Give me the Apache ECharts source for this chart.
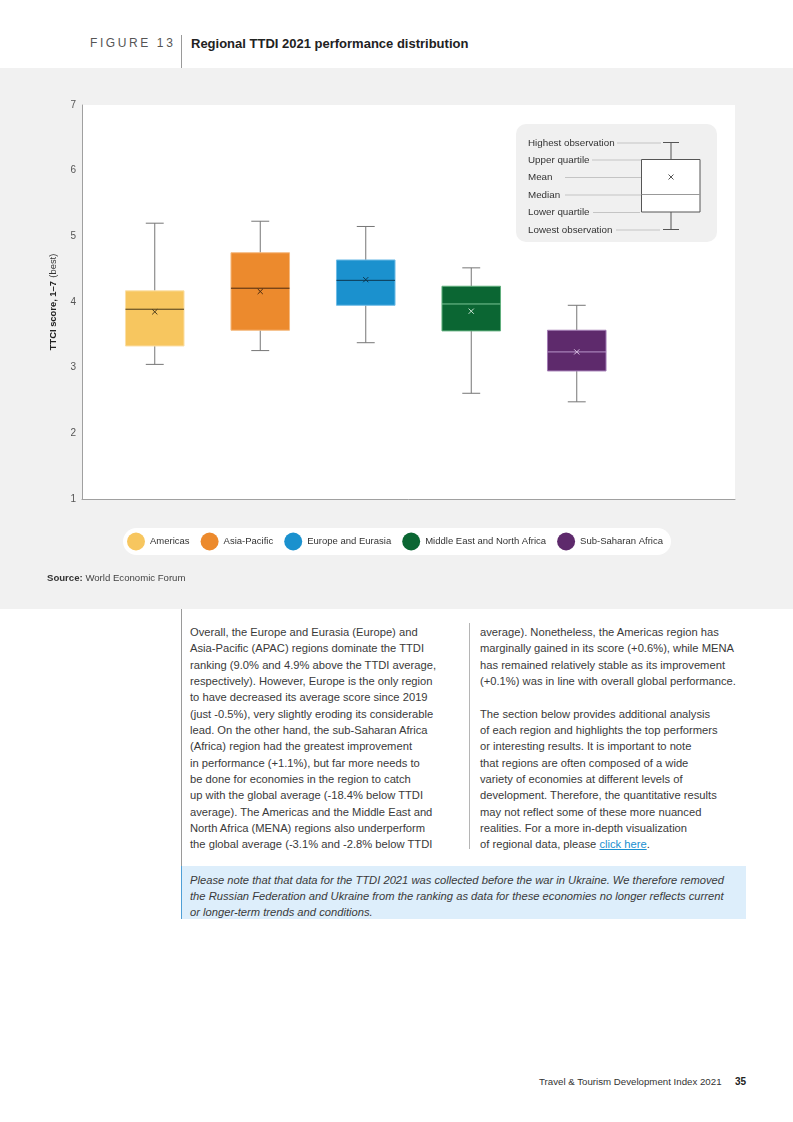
<!DOCTYPE html>
<html>
<head>
<meta charset="utf-8">
<script src="https://cdn.jsdelivr.net/npm/echarts@6/dist/echarts.min.js"></script>
<style>
  html, body { margin: 0; padding: 0; background: #fff; }
  body { width: 793px; height: 1122px; position: relative; overflow: hidden; font-family: "Liberation Sans", Arial, sans-serif; color: #333; }
  .abs { position: absolute; white-space: nowrap; }
  #band { position: absolute; left: 0; top: 68px; width: 793px; height: 541px; background: #f1f1f1; }
  #chart { position: absolute; left: 0; top: 0; width: 793px; height: 1122px; z-index: 2; }
  .vline { position: absolute; width: 1px; background: #9a9a9a; }
  .col { position: absolute; font-size: 11.2px; line-height: 16.35px; color: #3a3a3a; white-space: nowrap; }
  .note { position: absolute; left: 181px; top: 866px; width: 565px; height: 53px; background: #ddeefb; border-left: 1px solid #4f9fd6; box-sizing: border-box; }
  .notetext { position: absolute; left: 190px; top: 872px; font-size: 11.2px; line-height: 16.2px; font-style: italic; color: #3a3a3a; white-space: nowrap; }
  a { color: #1a8fd0; }
</style>
</head>
<body>
<div id="band"></div>
<div class="abs" style="left:90px; top:36px; font-size:12px; letter-spacing:2.6px; color:#555;">FIGURE 13</div>
<div class="vline" style="left:181px; top:35px; height:33px;"></div>
<div class="abs" style="left:191px; top:36px; font-size:13px; font-weight:bold; color:#222;">Regional TTDI 2021 performance distribution</div>
<div class="abs" style="left:47px; top:572px; font-size:9.6px; color:#444; z-index:3;"><b style="color:#333">Source:</b> World Economic Forum</div>
<div class="vline" style="left:181px; top:609px; height:257px;"></div>
<div class="vline" style="left:469px; top:623px; height:226px; background:#b5b5b5;"></div>
<div class="col" style="left:190px; top:624px;">Overall, the Europe and Eurasia (Europe) and<br>Asia-Pacific (APAC) regions dominate the TTDI<br>ranking (9.0% and 4.9% above the TTDI average,<br>respectively). However, Europe is the only region<br>to have decreased its average score since 2019<br>(just -0.5%), very slightly eroding its considerable<br>lead. On the other hand, the sub-Saharan Africa<br>(Africa) region had the greatest improvement<br>in performance (+1.1%), but far more needs to<br>be done for economies in the region to catch<br>up with the global average (-18.4% below TTDI<br>average). The Americas and the Middle East and<br>North Africa (MENA) regions also underperform<br>the global average (-3.1% and -2.8% below TTDI</div>
<div class="col" style="left:480px; top:624px;">average). Nonetheless, the Americas region has<br>marginally gained in its score (+0.6%), while MENA<br>has remained relatively stable as its improvement<br>(+0.1%) was in line with overall global performance.<br><br>The section below provides additional analysis<br>of each region and highlights the top performers<br>or interesting results. It is important to note<br>that regions are often composed of a wide<br>variety of economies at different levels of<br>development. Therefore, the quantitative results<br>may not reflect some of these more nuanced<br>realities. For a more in-depth visualization<br>of regional data, please <a href="#">click here</a>.</div>
<div class="note"></div>
<div class="notetext">Please note that that data for the TTDI 2021 was collected before the war in Ukraine. We therefore removed<br>the Russian Federation and Ukraine from the ranking as data for these economies no longer reflects current<br>or longer-term trends and conditions.</div>
<div class="abs" style="left:539px; top:1076px; font-size:9.7px; color:#333;">Travel &amp; Tourism Development Index 2021</div>
<div class="abs" style="left:735px; top:1076px; font-size:10px; font-weight:bold; color:#222;">35</div>
<div id="chart"></div>
<script>
// ---- data ----
const categories = ['Americas', 'Asia-Pacific', 'Europe and Eurasia', 'Middle East and North Africa', 'Sub-Saharan Africa'];
const lowest        = [3.05, 3.26, 3.38, 2.61, 2.48];
const lowerQuartile = [3.33, 3.57, 3.95, 3.56, 2.95];
const median        = [3.89, 4.21, 4.33, 3.97, 3.24];
const upperQuartile = [4.17, 4.75, 4.64, 4.24, 3.57];
const highest       = [5.20, 5.23, 5.15, 4.52, 3.95];
const mean          = [3.85, 4.16, 4.34, 3.86, 3.24];
const yMin = 1, yMax = 7, yStep = 1;
const insetLabels = ['Highest observation', 'Upper quartile', 'Mean', 'Median', 'Lower quartile', 'Lowest observation'];

// ---- styles ----
const fillColors   = ['#f7c65f', '#ec8a2d', '#1b91ce', '#0b6633', '#5e2a6c'];
const borderColors = ['#fbdfa6', '#f5b97f', '#6fbce6', '#5fae7c', '#a27bb4'];
const medianColors = ['#4a3a1a', '#4a2a10', '#0d3850', '#7cc495', '#b997c9'];
const meanColors   = ['#4a3a1a', '#4a2a10', '#0d3850', '#cfe8d8', '#d9c2e3'];
const FONT = '"Liberation Sans", Arial, sans-serif';

function renderBox(params, api) {
  const idx = api.value(0);
  const band = api.size([1, 0])[0];
  const boxW = band * 0.555, capW = band * 0.17;
  const cx = api.coord([idx, yMin])[0];
  const py = v => api.coord([idx, v])[1];
  const yLow = py(api.value(1)), yQ1 = py(api.value(2)), yMed = py(api.value(3)),
        yQ3 = py(api.value(4)), yHigh = py(api.value(5)), yMean = py(api.value(6));
  const s = params.seriesIndex;
  const wStyle = { stroke: '#767676', lineWidth: 1 };
  const m = 2.6;
  return {
    type: 'group',
    children: [
      { type: 'line', shape: { x1: cx, y1: yHigh, x2: cx, y2: yQ3 }, style: wStyle },
      { type: 'line', shape: { x1: cx, y1: yQ1, x2: cx, y2: yLow }, style: wStyle },
      { type: 'line', shape: { x1: cx - capW / 2, y1: yHigh, x2: cx + capW / 2, y2: yHigh }, style: wStyle },
      { type: 'line', shape: { x1: cx - capW / 2, y1: yLow, x2: cx + capW / 2, y2: yLow }, style: wStyle },
      { type: 'rect', shape: { x: cx - boxW / 2, y: yQ3, width: boxW, height: yQ1 - yQ3 },
        style: { fill: fillColors[s], stroke: borderColors[s], lineWidth: 1 } },
      { type: 'line', shape: { x1: cx - boxW / 2, y1: yMed, x2: cx + boxW / 2, y2: yMed },
        style: { stroke: medianColors[s], lineWidth: 1 } },
      { type: 'line', shape: { x1: cx - m, y1: yMean - m, x2: cx + m, y2: yMean + m },
        style: { stroke: meanColors[s], lineWidth: 1 } },
      { type: 'line', shape: { x1: cx - m, y1: yMean + m, x2: cx + m, y2: yMean - m },
        style: { stroke: meanColors[s], lineWidth: 1 } }
    ]
  };
}

const series = categories.map((name, i) => ({
  name: name,
  type: 'custom',
  xAxisIndex: 1,
  yAxisIndex: 1,
  itemStyle: { color: fillColors[i] },
  encode: { x: 0, y: [1, 2, 3, 4, 5, 6] },
  renderItem: renderBox,
  data: [[i, lowest[i], lowerQuartile[i], median[i], upperQuartile[i], highest[i], mean[i]]]
}));

// inset legend (explanatory key)
const insetRowY = [143, 160, 177.5, 195, 212.5, 230];
const insetLineX = [[617, 661], [592, 641], [565, 667], [565, 641], [593, 640], [616, 660]];
const inset = [
  { type: 'rect', shape: { x: 516, y: 124, width: 201, height: 118, r: 10 }, style: { fill: '#f0f0f0' }, z: 10 }
];
insetLabels.forEach((t, k) => {
  inset.push({ type: 'text', x: 528, y: insetRowY[k], style: { text: t, fill: '#333', font: '9.8px ' + FONT, verticalAlign: 'middle' }, z: 11 });
  inset.push({ type: 'line', shape: { x1: insetLineX[k][0], y1: insetRowY[k], x2: insetLineX[k][1], y2: insetRowY[k] }, style: { stroke: '#c4c4c4', lineWidth: 1 }, z: 11 });
});
inset.push(
  { type: 'line', shape: { x1: 671, y1: 142.5, x2: 671, y2: 229.5 }, style: { stroke: '#555', lineWidth: 1 }, z: 12 },
  { type: 'line', shape: { x1: 663, y1: 142.5, x2: 679, y2: 142.5 }, style: { stroke: '#555', lineWidth: 1 }, z: 12 },
  { type: 'line', shape: { x1: 663, y1: 229.5, x2: 679, y2: 229.5 }, style: { stroke: '#555', lineWidth: 1 }, z: 12 },
  { type: 'rect', shape: { x: 641.5, y: 159.5, width: 58.5, height: 52.5 }, style: { fill: '#fff', stroke: '#555', lineWidth: 1 }, z: 13 },
  { type: 'line', shape: { x1: 641.5, y1: 194.5, x2: 700, y2: 194.5 }, style: { stroke: '#999', lineWidth: 1 }, z: 14 },
  { type: 'line', shape: { x1: 668.5, y1: 174.5, x2: 673.5, y2: 179.5 }, style: { stroke: '#555', lineWidth: 1 }, z: 14 },
  { type: 'line', shape: { x1: 668.5, y1: 179.5, x2: 673.5, y2: 174.5 }, style: { stroke: '#555', lineWidth: 1 }, z: 14 }
);

const chart = echarts.init(document.getElementById('chart'), null, { renderer: 'canvas' });
chart.setOption({
  backgroundColor: 'transparent',
  animation: false,
  textStyle: { fontFamily: FONT },
  grid: [
    { left: 82, right: 58, top: 105, bottom: 623, show: true, backgroundColor: '#ffffff', borderWidth: 0 },
    { left: 102, right: 58, top: 105, bottom: 623 }
  ],
  xAxis: [
    { gridIndex: 0, type: 'value', min: 0, max: 1,
      axisLine: { show: true, lineStyle: { color: '#a0a0a0', width: 1 } },
      axisTick: { show: false }, axisLabel: { show: false }, splitLine: { show: false } },
    { gridIndex: 1, type: 'category', data: categories.concat(['']), show: false, boundaryGap: true }
  ],
  yAxis: [
    { gridIndex: 0, type: 'value', min: yMin, max: yMax, interval: yStep,
      axisLine: { show: true, lineStyle: { color: '#a0a0a0', width: 1 } },
      axisTick: { show: false }, splitLine: { show: false },
      axisLabel: { color: '#555', fontSize: 10, margin: 6 },
      name: '{b|TTCI score, 1–7} {n|(best)}', nameLocation: 'middle', nameGap: 18,
      nameTextStyle: { rich: { b: { fontWeight: 'bold', fontSize: 9.4, color: '#222' }, n: { fontSize: 9.4, color: '#333' } } } },
    { gridIndex: 1, type: 'value', min: yMin, max: yMax, show: false }
  ],
  legend: {
    data: categories,
    left: 123, top: 528,
    icon: 'circle', itemWidth: 18, itemHeight: 18, itemGap: 11,
    padding: [4.5, 8, 4.5, 4],
    backgroundColor: '#ffffff', borderRadius: 14,
    textStyle: { color: '#333', fontSize: 9.5, fontFamily: FONT },
    selectedMode: false
  },
  graphic: inset,
  series: series
});
</script>
</body>
</html>
